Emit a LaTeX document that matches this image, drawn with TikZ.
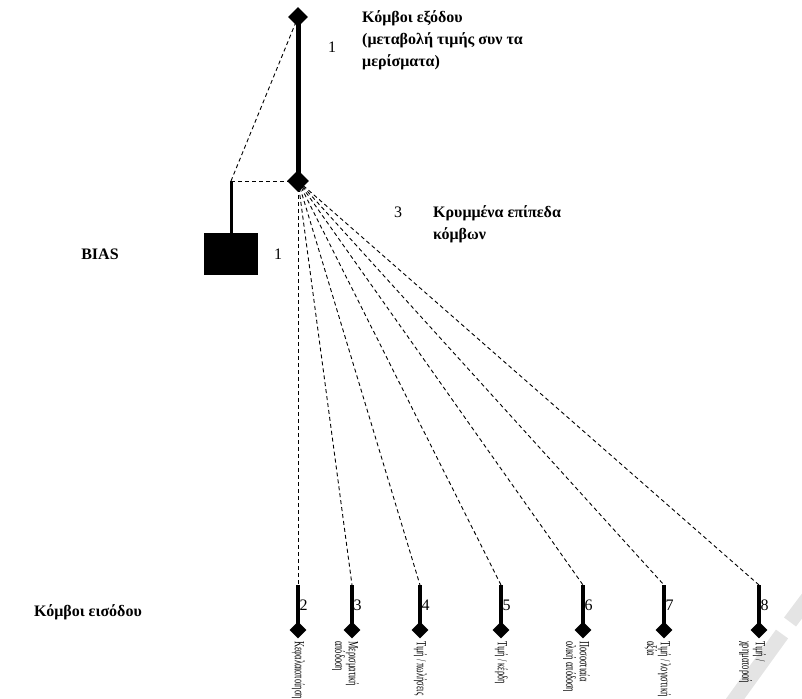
\documentclass[tikz,border=0pt]{standalone}
\usepackage{fontspec}
\setmainfont{Liberation Serif}
\usepackage{graphicx}
\usetikzlibrary{shapes.geometric}
\definecolor{wm}{HTML}{E4E4E4}
\newcommand{\rotlab}[1]{\scalebox{0.6}[1]{\begin{tabular}{@{}l@{}}#1\end{tabular}}}
\begin{document}
\begin{tikzpicture}[x=1pt,y=-1pt,
  dia/.style={diamond,fill=black,inner sep=0pt,minimum size=#1},
  fan/.style={draw,dash pattern=on 4pt off 3pt,line width=0.9pt},
  heavyline/.style={line width=5pt},
  biasline/.style={line width=3pt},
  stemline/.style={line width=3.5pt},
  lbl/.style={font=\fontsize{16}{19.5}\selectfont,inner sep=0pt},
  blbl/.style={font=\fontsize{16}{22}\selectfont\bfseries,align=left,inner sep=0pt},
  inlbl/.style={rotate=-90,anchor=north west,inner sep=0pt,font=\fontsize{14}{13}\selectfont}]
\useasboundingbox (0,0) rectangle (802,698);
% watermark
\draw[line width=15pt,wm] (808,598) -- (790,622);
\draw[line width=15pt,wm] (782,634) -- (730,706);
% output node
\node[dia=20pt] (out) at (298,17) {};
\node[dia=22pt] (hid) at (298,181) {};
\coordinate (corner) at (231,181);
\node[fill=black,minimum width=54pt,minimum height=42pt,inner sep=0pt,anchor=north] (bias) at (231,233) {};
\draw[heavyline] (out.center) -- (hid.center);
\draw[fan] (corner) -- (out.center);
\draw[fan] (corner) -- (hid.center);
\draw[biasline] (corner) -- (bias.north);
% labels top
\node[lbl] (n1) at (332,47) {1};
\node[blbl,anchor=north west] (outlbl) at (362,10) {Κόμβοι εξόδου\\(μεταβολή τιμής συν τα\\μερίσματα)};
\node[lbl] (n3) at (398,212) {3};
\node[blbl,anchor=north west] (hidlbl) at (433,205) {Κρυμμένα επίπεδα\\κόμβων};
\node[lbl] (nb) at (278,254) {1};
\node[blbl] (biaslbl) at (100,254) {BIAS};
\node[blbl] (inlbl0) at (88,612) {Κόμβοι εισόδου};
% input nodes
\foreach \i/\x/\t in {2/298/{Κεφαλαιοποίηση},3/352/{Μερισματική\\απόδοση},4/420/{Τιμή / πωλήσεις},5/501/{Τιμή / κέρδη},6/583/{Ποσοστιαία\\ολική απόδοση},7/664/{Τιμή / λογιστική\\αξία},8/759/{Τιμή /\\χρηματοροή}}{
  \coordinate (top\i) at (\x,585);
  \node[dia=17pt] (in\i) at (\x,630) {};
  \draw[stemline] (top\i) -- (in\i.center);
  \draw[fan] (hid.center) -- (top\i);
  \node[lbl,anchor=west] (num\i) at (\x+1.5,605) {\i};
  \node[inlbl] (txt\i) at (\x+7,641) {\rotlab{\t}};
}
\end{tikzpicture}
\end{document}
